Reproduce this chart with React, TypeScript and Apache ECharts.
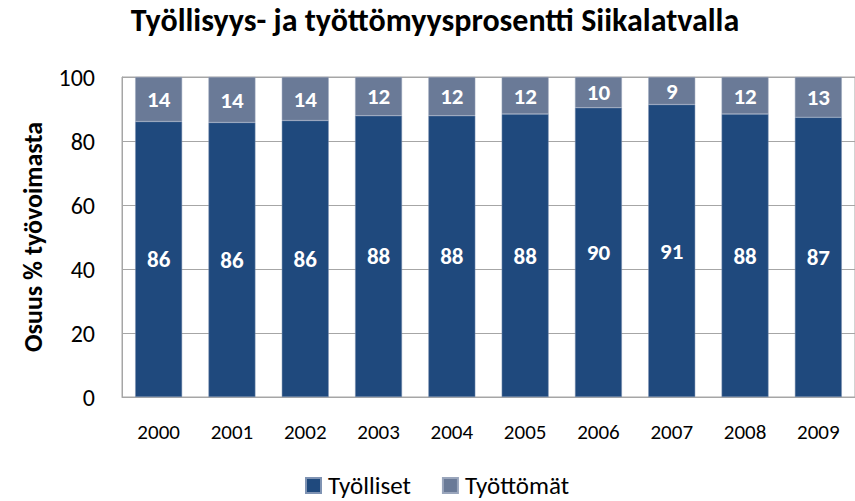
import React, { useEffect, useRef } from "react";
import * as echarts from "echarts";

const years = ["2000", "2001", "2002", "2003", "2004", "2005", "2006", "2007", "2008", "2009"];
const tyolliset = [86.1, 85.8, 86.4, 87.9, 87.9, 88.4, 90.4, 91.4, 88.4, 87.4];
const tyottomat = [13.9, 14.2, 13.6, 12.1, 12.1, 11.6, 9.6, 8.6, 11.6, 12.6];
const yTicks = [0, 20, 40, 60, 80, 100];

const FONT = "Carlito, Lato, sans-serif";
const NARROW = "'Liberation Sans Narrow', Carlito, sans-serif";

export default function App() {
  const ref = useRef<HTMLDivElement>(null);
  useEffect(() => {
    if (!ref.current) return;
    const chart = echarts.init(ref.current, undefined, { renderer: "svg" });
    const barLabel = {
      show: true,
      position: "inside",
      color: "#fff",
      fontFamily: FONT,
      fontSize: 23,
      fontWeight: "bold",
      formatter: (p: any) => String(Math.round(p.value)),
    };
    chart.setOption({
      animation: false,
      textStyle: { fontFamily: FONT },
      title: {
        text: "Työllisyys- ja työttömyysprosentti Siikalatvalla",
        left: 435,
        textAlign: "center",
        top: 4,
        padding: 0,
        textStyle: { fontFamily: FONT, fontSize: 32, fontWeight: "bold", color: "#000" },
      },
      legend: {
        top: 473,
        left: 305,
        padding: 0,
        itemWidth: 15,
        itemHeight: 15,
        itemGap: 31,
        icon: "rect",
        textStyle: { fontFamily: FONT, fontSize: 25, lineHeight: 25, color: "#000", padding: [0, 0, 0, 2] },
        data: ["Työlliset", "Työttömät"],
      },
      grid: {
        left: 122,
        right: -6,
        top: 77,
        bottom: 104,
        show: true,
        borderColor: "#a6a6a6",
        borderWidth: 1,
      },
      xAxis: {
        type: "category",
        data: years,
        axisLine: { lineStyle: { color: "#a6a6a6" } },
        axisTick: { show: false },
        axisLabel: { fontFamily: NARROW, fontSize: 21, color: "#000", margin: 24 },
      },
      yAxis: {
        type: "value",
        min: yTicks[0],
        max: yTicks[yTicks.length - 1],
        interval: 20,
        name: "Osuus % työvoimasta",
        nameLocation: "middle",
        nameGap: 76,
        nameTextStyle: { fontFamily: FONT, fontSize: 26, fontWeight: "bold", color: "#000" },
        axisLine: { show: true, lineStyle: { color: "#a6a6a6" } },
        axisTick: { show: false },
        axisLabel: { fontFamily: FONT, fontSize: 24, color: "#000", margin: 27 },
        splitLine: { lineStyle: { color: "#a6a6a6" } },
      },
      series: [
        {
          name: "Työlliset",
          type: "bar",
          stack: "a",
          data: tyolliset,
          barCategoryGap: "36%",
          itemStyle: { color: "#1F497D", borderColor: "#7f93b3", borderWidth: 0.5 },
          label: barLabel,
        },
        {
          name: "Työttömät",
          type: "bar",
          stack: "a",
          data: tyottomat,
          barCategoryGap: "36%",
          itemStyle: { color: "#6A7A97", borderColor: "#9aa6bc", borderWidth: 0.5 },
          label: barLabel,
        },
      ],
    });
    return () => chart.dispose();
  }, []);
  return <div ref={ref} style={{ width: 855, height: 501, position: "absolute", left: 0, top: 0 }} />;
}
